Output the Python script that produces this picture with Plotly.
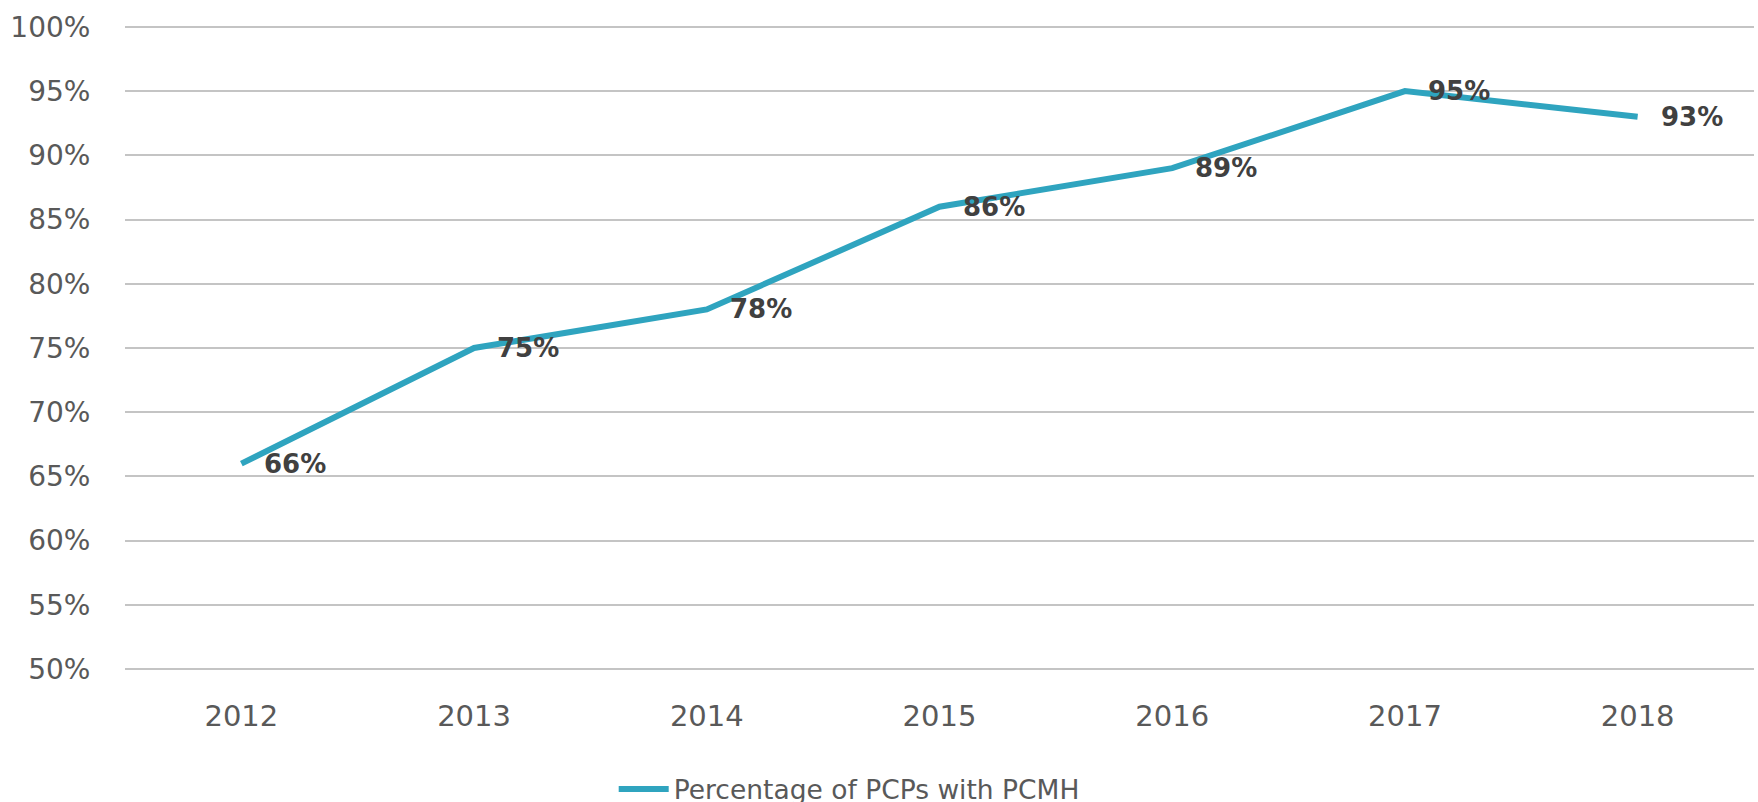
import plotly.graph_objects as go

years = ["2012", "2013", "2014", "2015", "2016", "2017", "2018"]
pct_values = [0.66, 0.75, 0.78, 0.86, 0.89, 0.95, 0.93]
value_labels = ["66%", "75%", "78%", "86%", "89%", "95%", "93%"]
series_name = "Percentage of PCPs with PCMH"

FONT = "DejaVu Sans"
LINE_COLOR = "#2FA4BF"

fig = go.Figure()
fig.add_trace(go.Scatter(
    x=years, y=pct_values, mode="lines", name=series_name,
    line=dict(color=LINE_COLOR, width=6),
    hoverinfo="skip",
))

for i, (y, t) in enumerate(zip(pct_values, value_labels)):
    fig.add_annotation(
        x=i, y=y, xref="x", yref="y", text=t, showarrow=False,
        xanchor="left", yanchor="middle", xshift=21, yshift=0,
        font=dict(family=FONT, size=26, color="#404040", weight="bold"),
    )

fig.update_layout(
    width=1758, height=802,
    margin=dict(l=125, r=4, t=25, b=131, autoexpand=False),
    paper_bgcolor="white", plot_bgcolor="white",
    font=dict(family=FONT, color="#595959"),
    showlegend=True,
    legend=dict(
        orientation="h", x=0.300, xanchor="left", y=-0.183, yanchor="middle",
        font=dict(family=FONT, size=26.5, color="#595959"),
        itemwidth=50, bgcolor="rgba(0,0,0,0)",
    ),
    xaxis=dict(
        type="category", range=[-0.5, 6.5], showgrid=False, zeroline=False,
        showline=False, ticks="outside", ticklen=19, tickcolor="rgba(0,0,0,0)",
        tickfont=dict(family=FONT, size=29, color="#595959"),
    ),
    yaxis=dict(
        range=[0.4985, 1.0015], dtick=0.05, tick0=0.5, tickformat=".0%",
        showgrid=True, gridcolor="#C4C4C4", gridwidth=2, zeroline=False,
        showline=False, ticks="outside", ticklen=28, tickcolor="rgba(0,0,0,0)",
        tickfont=dict(family=FONT, size=28, color="#595959"),
    ),
)

fig.write_html(
    "out.html",
    config={"displayModeBar": False},
    post_script="document.body.style.margin='0';document.body.style.overflow='hidden';",
)
